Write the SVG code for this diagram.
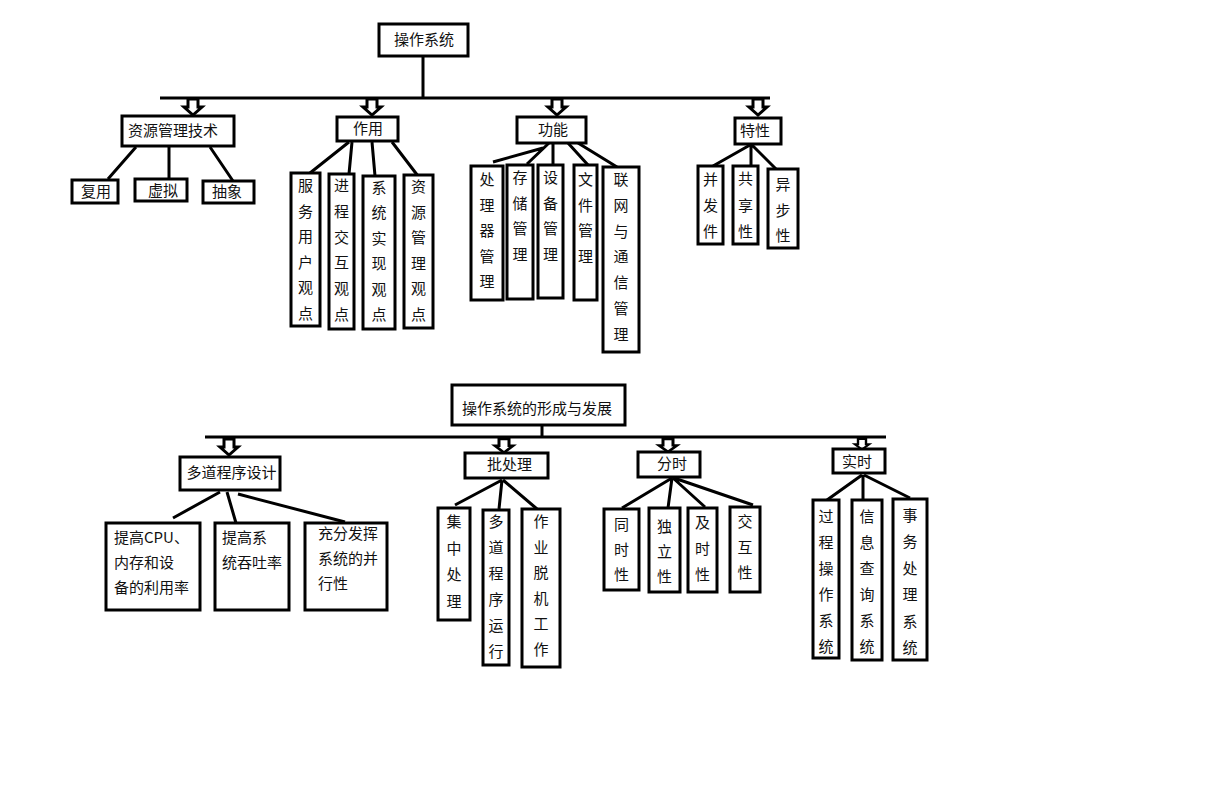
<svg xmlns="http://www.w3.org/2000/svg" xmlns:xlink="http://www.w3.org/1999/xlink" width="1229" height="801" viewBox="0 0 1229 801">
<style>
.b{fill:#fff;stroke:#000;stroke-width:3}
.l{stroke:#000;stroke-width:3;fill:none}
.t{font-family:"Noto Sans CJK SC","Noto Sans",sans-serif;font-size:15px;fill:#111}
.m{text-anchor:middle}
</style>
<defs>
<path id="arr" d="M-5,0 H5 V8 H9 L0,16 L-9,8 H-5 Z" fill="#fff" stroke="#000" stroke-width="3"/>
</defs>
<rect width="1229" height="801" fill="#fff"/>
<g id="connectors">
<path class="l" d="M423,56 V98 M160,98 H770"/>
<use xlink:href="#arr" href="#arr" x="193" y="99"/>
<use xlink:href="#arr" href="#arr" x="372" y="99"/>
<use xlink:href="#arr" href="#arr" x="557" y="99"/>
<use xlink:href="#arr" href="#arr" x="758" y="99"/>
<path class="l" d="M136,147 L108,179 M169,147 V178 M210,147 L233,181"/>
<path class="l" d="M349,142 L310,173 M352,142 L349,174 M372,142 L375,176 M392,142 L418,176"/>
<path class="l" d="M543,148 L493,162 M549,143 L527,164 M553,143 V166 M568,143 L588,165 M578,143 L617,167"/>
<path class="l" d="M750,145 L713,166 M751,145 V166 M752,145 L777,170"/>
<path class="l" d="M542,425 V437 M205,437 H886"/>
<use xlink:href="#arr" href="#arr" x="229" y="439"/>
<use xlink:href="#arr" href="#arr" transform="translate(504,439) scale(1,0.85)"/>
<use xlink:href="#arr" href="#arr" transform="translate(668,439) scale(1,0.8)"/>
<use xlink:href="#arr" href="#arr" transform="translate(862,439) scale(0.8,0.65)"/>
<path class="l" d="M220,492 L173,518 M227,492 L236,523 M238,494 L345,522"/>
<path class="l" d="M502,480 L455,505 M502,480 L499,509 M503,480 L537,509"/>
<path class="l" d="M672,478 L622,508 M672,478 L668,508 M673,478 L705,507 M674,478 L753,505"/>
<path class="l" d="M862,475 L827,500 M863,475 V500 M864,475 L910,498"/>
</g>
<g id="n-root"><rect class="b" x="379" y="24" width="89" height="32"/><text class="t m" x="424" y="45">操作系统</text></g>
<g id="n-zyglj"><rect class="b" x="122" y="116" width="112" height="30"/><text class="t m" x="173" y="136">资源管理技术</text></g>
<g id="n-zy"><rect class="b" x="337" y="117" width="61" height="24"/><text class="t m" x="368" y="134">作用</text></g>
<g id="n-gn"><rect class="b" x="517" y="117" width="69" height="26"/><text class="t m" x="553" y="135">功能</text></g>
<g id="n-tx"><rect class="b" x="735" y="118" width="46" height="26"/><text class="t m" x="755" y="136">特性</text></g>
<g id="n-fy"><rect class="b" x="72" y="180" width="46" height="23"/><text class="t m" x="96" y="197">复用</text></g>
<g id="n-xn"><rect class="b" x="135" y="179" width="52" height="22"/><text class="t m" x="163" y="196">虚拟</text></g>
<g id="n-cx"><rect class="b" x="203" y="181" width="51" height="22"/><text class="t m" x="227" y="197">抽象</text></g>
<g id="n-fwyh"><rect class="b" x="291" y="173" width="29" height="153"/><text class="t m" x="305.5" y="191"><tspan x="305.5">服</tspan><tspan x="305.5" dy="25.6">务</tspan><tspan x="305.5" dy="25.6">用</tspan><tspan x="305.5" dy="25.6">户</tspan><tspan x="305.5" dy="25.6">观</tspan><tspan x="305.5" dy="25.6">点</tspan></text></g>
<g id="n-jcjh"><rect class="b" x="329" y="174" width="25" height="155"/><text class="t m" x="341.5" y="191"><tspan x="341.5">进</tspan><tspan x="341.5" dy="25.8">程</tspan><tspan x="341.5" dy="25.8">交</tspan><tspan x="341.5" dy="25.8">互</tspan><tspan x="341.5" dy="25.8">观</tspan><tspan x="341.5" dy="25.8">点</tspan></text></g>
<g id="n-xtsx"><rect class="b" x="363" y="176" width="32" height="153"/><text class="t m" x="379" y="193"><tspan x="379">系</tspan><tspan x="379" dy="25.4">统</tspan><tspan x="379" dy="25.4">实</tspan><tspan x="379" dy="25.4">现</tspan><tspan x="379" dy="25.4">观</tspan><tspan x="379" dy="25.4">点</tspan></text></g>
<g id="n-zygl"><rect class="b" x="404" y="175" width="29" height="153"/><text class="t m" x="418.5" y="192"><tspan x="418.5">资</tspan><tspan x="418.5" dy="25.6">源</tspan><tspan x="418.5" dy="25.6">管</tspan><tspan x="418.5" dy="25.6">理</tspan><tspan x="418.5" dy="25.6">观</tspan><tspan x="418.5" dy="25.6">点</tspan></text></g>
<g id="n-clq"><rect class="b" x="471" y="166" width="32" height="134"/><text class="t m" x="487" y="185"><tspan x="487">处</tspan><tspan x="487" dy="25.5">理</tspan><tspan x="487" dy="25.5">器</tspan><tspan x="487" dy="25.5">管</tspan><tspan x="487" dy="25.5">理</tspan></text></g>
<g id="n-cc"><rect class="b" x="507" y="165" width="26" height="134"/><text class="t m" x="520" y="183"><tspan x="520">存</tspan><tspan x="520" dy="25.7">储</tspan><tspan x="520" dy="25.7">管</tspan><tspan x="520" dy="25.7">理</tspan></text></g>
<g id="n-sb"><rect class="b" x="538" y="165" width="25" height="133"/><text class="t m" x="550.5" y="183"><tspan x="550.5">设</tspan><tspan x="550.5" dy="25.7">备</tspan><tspan x="550.5" dy="25.7">管</tspan><tspan x="550.5" dy="25.7">理</tspan></text></g>
<g id="n-wj"><rect class="b" x="574" y="165" width="23" height="135"/><text class="t m" x="585.5" y="185"><tspan x="585.5">文</tspan><tspan x="585.5" dy="25.7">件</tspan><tspan x="585.5" dy="25.7">管</tspan><tspan x="585.5" dy="25.7">理</tspan></text></g>
<g id="n-lw"><rect class="b" x="603" y="167" width="36" height="185"/><text class="t m" x="621" y="185"><tspan x="621">联</tspan><tspan x="621" dy="25.8">网</tspan><tspan x="621" dy="25.8">与</tspan><tspan x="621" dy="25.8">通</tspan><tspan x="621" dy="25.8">信</tspan><tspan x="621" dy="25.8">管</tspan><tspan x="621" dy="25.8">理</tspan></text></g>
<g id="n-bf"><rect class="b" x="698" y="166" width="25" height="78"/><text class="t m" x="710.5" y="185"><tspan x="710.5">并</tspan><tspan x="710.5" dy="26">发</tspan><tspan x="710.5" dy="26">件</tspan></text></g>
<g id="n-gx"><rect class="b" x="733" y="166" width="25" height="78"/><text class="t m" x="745.5" y="184"><tspan x="745.5">共</tspan><tspan x="745.5" dy="26.5">享</tspan><tspan x="745.5" dy="26.5">性</tspan></text></g>
<g id="n-yb"><rect class="b" x="768" y="169" width="30" height="79"/><text class="t m" x="783" y="190"><tspan x="783">异</tspan><tspan x="783" dy="25.5">步</tspan><tspan x="783" dy="25.5">性</tspan></text></g>
<g id="n-root2"><rect class="b" x="452" y="385" width="173" height="40"/><text class="t m" x="537" y="414">操作系统的形成与发展</text></g>
<g id="n-ddcx"><rect class="b" x="180" y="457" width="100" height="33"/><text class="t m" x="231.5" y="478">多道程序设计</text></g>
<g id="n-pcl"><rect class="b" x="465" y="453" width="83" height="25"/><text class="t m" x="509.5" y="470">批处理</text></g>
<g id="n-fs"><rect class="b" x="638" y="452" width="62" height="25"/><text class="t m" x="672" y="469">分时</text></g>
<g id="n-ss"><rect class="b" x="833" y="449" width="52" height="24"/><text class="t m" x="857" y="467">实时</text></g>
<g id="n-tgcpu"><rect class="b" x="106" y="523" width="94" height="87"/><text class="t" x="114" y="543"><tspan x="114">提高CPU、</tspan><tspan x="114" dy="25">内存和设</tspan><tspan x="114" dy="25">备的利用率</tspan></text></g>
<g id="n-tgxt"><rect class="b" x="215" y="523" width="74" height="87"/><text class="t" x="222" y="543"><tspan x="222">提高系</tspan><tspan x="222" dy="25">统吞吐率</tspan></text></g>
<g id="n-cffh"><rect class="b" x="305" y="523" width="82" height="87"/><text class="t" x="318" y="539"><tspan x="318">充分发挥</tspan><tspan x="318" dy="25">系统的并</tspan><tspan x="318" dy="25">行性</tspan></text></g>
<g id="n-jzcl"><rect class="b" x="438" y="508" width="32" height="112"/><text class="t m" x="454" y="527"><tspan x="454">集</tspan><tspan x="454" dy="26.7">中</tspan><tspan x="454" dy="26.7">处</tspan><tspan x="454" dy="26.7">理</tspan></text></g>
<g id="n-ddyx"><rect class="b" x="483" y="510" width="26" height="155"/><text class="t m" x="496" y="527"><tspan x="496">多</tspan><tspan x="496" dy="26">道</tspan><tspan x="496" dy="26">程</tspan><tspan x="496" dy="26">序</tspan><tspan x="496" dy="26">运</tspan><tspan x="496" dy="26">行</tspan></text></g>
<g id="n-zytj"><rect class="b" x="522" y="509" width="38" height="158"/><text class="t m" x="541" y="527"><tspan x="541">作</tspan><tspan x="541" dy="25.6">业</tspan><tspan x="541" dy="25.6">脱</tspan><tspan x="541" dy="25.6">机</tspan><tspan x="541" dy="25.6">工</tspan><tspan x="541" dy="25.6">作</tspan></text></g>
<g id="n-tsx"><rect class="b" x="604" y="509" width="35" height="81"/><text class="t m" x="621.5" y="530"><tspan x="621.5">同</tspan><tspan x="621.5" dy="25">时</tspan><tspan x="621.5" dy="25">性</tspan></text></g>
<g id="n-dlx"><rect class="b" x="649" y="508" width="31" height="84"/><text class="t m" x="664.5" y="532"><tspan x="664.5">独</tspan><tspan x="664.5" dy="25">立</tspan><tspan x="664.5" dy="25">性</tspan></text></g>
<g id="n-jsx"><rect class="b" x="688" y="508" width="29" height="84"/><text class="t m" x="702.5" y="528"><tspan x="702.5">及</tspan><tspan x="702.5" dy="26">时</tspan><tspan x="702.5" dy="26">性</tspan></text></g>
<g id="n-jhx"><rect class="b" x="730" y="507" width="30" height="85"/><text class="t m" x="745" y="527"><tspan x="745">交</tspan><tspan x="745" dy="25.5">互</tspan><tspan x="745" dy="25.5">性</tspan></text></g>
<g id="n-gccz"><rect class="b" x="813" y="500" width="26" height="158"/><text class="t m" x="826" y="522"><tspan x="826">过</tspan><tspan x="826" dy="26">程</tspan><tspan x="826" dy="26">操</tspan><tspan x="826" dy="26">作</tspan><tspan x="826" dy="26">系</tspan><tspan x="826" dy="26">统</tspan></text></g>
<g id="n-xxcx"><rect class="b" x="852" y="500" width="30" height="160"/><text class="t m" x="867" y="522"><tspan x="867">信</tspan><tspan x="867" dy="26">息</tspan><tspan x="867" dy="26">查</tspan><tspan x="867" dy="26">询</tspan><tspan x="867" dy="26">系</tspan><tspan x="867" dy="26">统</tspan></text></g>
<g id="n-swcl"><rect class="b" x="893" y="499" width="34" height="161"/><text class="t m" x="910" y="521"><tspan x="910">事</tspan><tspan x="910" dy="26.4">务</tspan><tspan x="910" dy="26.4">处</tspan><tspan x="910" dy="26.4">理</tspan><tspan x="910" dy="26.4">系</tspan><tspan x="910" dy="26.4">统</tspan></text></g>
</svg>
